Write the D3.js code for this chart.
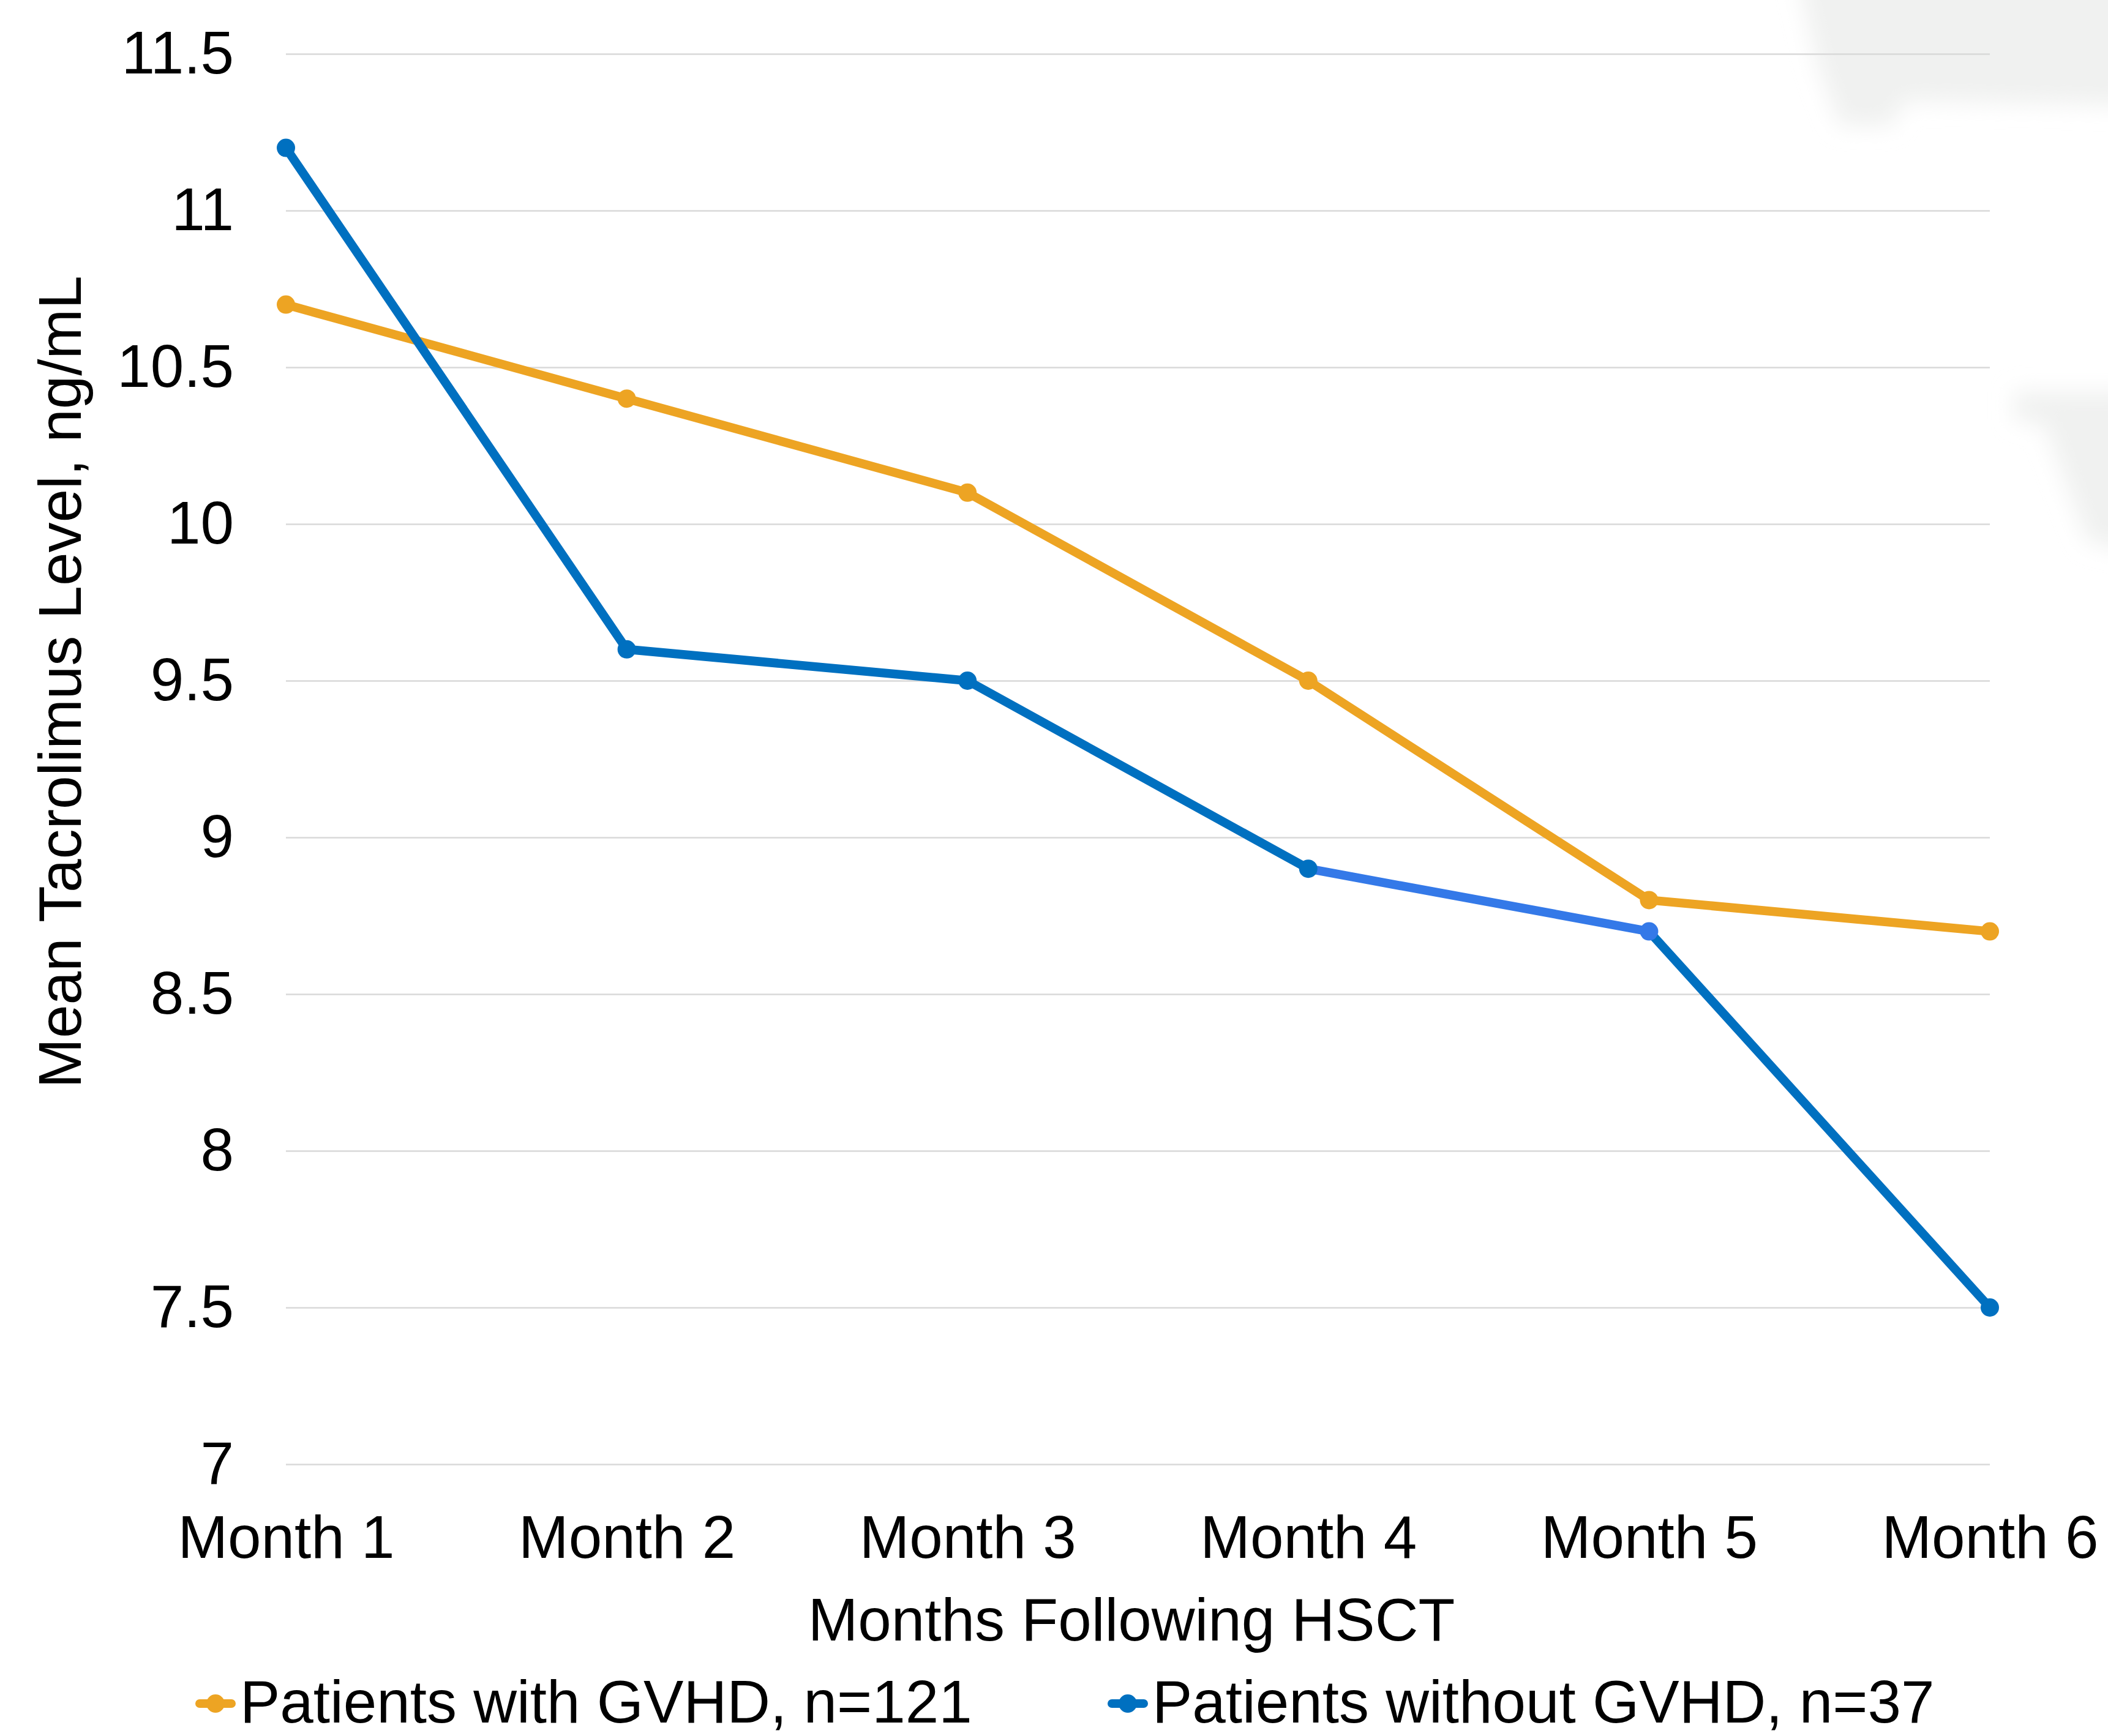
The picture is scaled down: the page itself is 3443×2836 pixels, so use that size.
<!DOCTYPE html>
<html>
<head>
<meta charset="utf-8">
<script src="https://cdn.jsdelivr.net/npm/d3@7"></script>
<style>
  html, body { margin: 0; padding: 0; background: #ffffff; }
  svg { display: block; }
  text { font-family: "Liberation Sans", Arial, Helvetica, sans-serif; fill: #000; }
</style>
</head>
<body>
<svg id="chart" width="3443" height="2836"></svg>
<script>
// Mean tacrolimus trough level by month after HSCT
const months = ["Month 1", "Month 2", "Month 3", "Month 4", "Month 5", "Month 6"];
const withGvhd = [10.7, 10.4, 10.1, 9.5, 8.8, 8.7];
const withoutGvhd = [11.2, 9.6, 9.5, 8.9, 8.7, 7.5];
const yTicks = [7, 7.5, 8, 8.5, 9, 9.5, 10, 10.5, 11, 11.5];
const seriesNames = ["Patients with GVHD, n=121", "Patients without GVHD, n=37"];

const W = 3443, H = 2836;
const plot = { left: 467, right: 3250, top: 88, bottom: 2392 };
const FONT = 98;
const ORANGE = "#EDA423";
const BLUE = "#0070C0";
const BLUE_LIGHT = "#3479E8";
const LINE_W = 14.5;
const DOT_R = 15;

const svg = d3.select("#chart");
svg.append("rect").attr("width", W).attr("height", H).attr("fill", "#ffffff");

// soft grey backdrop shapes at the right edge of the slide
const defs = svg.append("defs");
defs.append("filter").attr("id", "soft").attr("x", "-50%").attr("y", "-50%")
  .attr("width", "200%").attr("height", "200%")
  .append("feGaussianBlur").attr("stdDeviation", 18);
svg.append("path")
  .attr("d", "M2935,-40 L3480,-40 L3480,172 L3110,165 L3090,205 L3005,205 L2970,110 Z")
  .attr("fill", "#f0f1f0").attr("filter", "url(#soft)");
svg.append("path")
  .attr("d", "M3290,640 L3480,640 L3480,900 L3410,885 L3340,695 L3290,685 Z")
  .attr("fill", "#f0f1f0").attr("filter", "url(#soft)");

const x = d3.scalePoint().domain(months).range([plot.left, plot.right]).padding(0);
const y = d3.scaleLinear().domain([7, 11.5]).range([plot.bottom, plot.top]);

// y axis with full-width gridlines
const yAxis = svg.append("g")
  .attr("transform", `translate(${plot.left},0)`)
  .call(d3.axisLeft(y).tickValues(yTicks).tickFormat(d => String(d))
    .tickSize(-(plot.right - plot.left)).tickPadding(85));
yAxis.select(".domain").remove();
yAxis.selectAll(".tick line").attr("stroke", "#d9d9d9").attr("stroke-width", 2.5);
yAxis.selectAll(".tick text").attr("font-size", FONT)
  .attr("font-family", "Liberation Sans, Arial, sans-serif").attr("fill", "#000");

// x axis labels
const xAxis = svg.append("g")
  .attr("transform", `translate(0,${plot.bottom})`)
  .call(d3.axisBottom(x).tickSize(0).tickPadding(83));
xAxis.select(".domain").remove();
xAxis.selectAll(".tick text").attr("font-size", FONT)
  .attr("font-family", "Liberation Sans, Arial, sans-serif").attr("fill", "#000");

// axis titles
svg.append("text")
  .attr("x", 1848).attr("y", 2680)
  .attr("text-anchor", "middle").attr("font-size", FONT)
  .text("Months Following HSCT");
svg.append("text")
  .attr("transform", "translate(132,1114) rotate(-90)")
  .attr("text-anchor", "middle").attr("font-size", FONT)
  .text("Mean Tacrolimus Level, ng/mL");

const line = d3.line().x((d, i) => x(months[i])).y(d => y(d));

// with GVHD series
svg.append("path").datum(withGvhd)
  .attr("d", line).attr("fill", "none")
  .attr("stroke", ORANGE).attr("stroke-width", LINE_W)
  .attr("stroke-linejoin", "round").attr("stroke-linecap", "round");
svg.append("g").selectAll("circle").data(withGvhd).join("circle")
  .attr("cx", (d, i) => x(months[i])).attr("cy", d => y(d))
  .attr("r", DOT_R).attr("fill", ORANGE);

// without GVHD series; the Month 5 point carries its own lighter format
const lightIdx = 4;
const blueColor = i => (i === lightIdx ? BLUE_LIGHT : BLUE);
const segs = d3.pairs(d3.range(withoutGvhd.length));
svg.append("g").selectAll("line").data(segs).join("line")
  .attr("x1", d => x(months[d[0]])).attr("y1", d => y(withoutGvhd[d[0]]))
  .attr("x2", d => x(months[d[1]])).attr("y2", d => y(withoutGvhd[d[1]]))
  .attr("stroke", d => blueColor(d[1])).attr("stroke-width", LINE_W)
  .attr("stroke-linecap", "round");
svg.append("g").selectAll("circle").data(withoutGvhd).join("circle")
  .attr("cx", (d, i) => x(months[i])).attr("cy", d => y(d))
  .attr("r", DOT_R).attr("fill", (d, i) => blueColor(i));

// legend
const legendItems = [
  { name: seriesNames[0], color: ORANGE, cx: 352 },
  { name: seriesNames[1], color: BLUE, cx: 1842 }
];
const legendY = 2783;
const lg = svg.append("g").selectAll("g").data(legendItems).join("g");
lg.append("line")
  .attr("x1", d => d.cx - 26).attr("x2", d => d.cx + 26)
  .attr("y1", legendY).attr("y2", legendY)
  .attr("stroke", d => d.color).attr("stroke-width", 14).attr("stroke-linecap", "round");
lg.append("circle")
  .attr("cx", d => d.cx).attr("cy", legendY).attr("r", DOT_R).attr("fill", d => d.color);
lg.append("text")
  .attr("x", d => d.cx + 40).attr("y", 2814).attr("font-size", FONT)
  .text(d => d.name);
</script>
</body>
</html>
